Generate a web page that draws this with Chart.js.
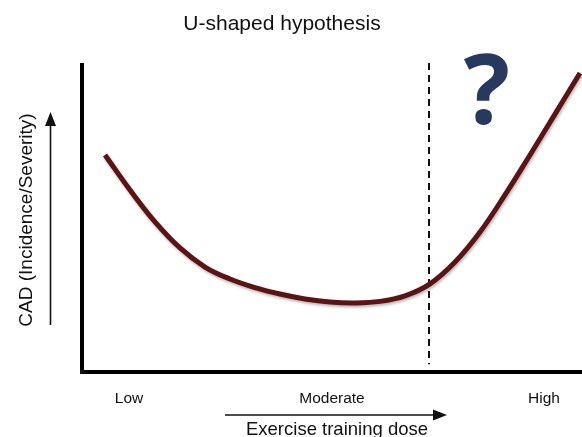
<!DOCTYPE html>
<html>
<head>
<meta charset="utf-8">
<script src="https://cdn.jsdelivr.net/npm/chart.js@4/dist/chart.umd.min.js"></script>
<style>
html,body{margin:0;padding:0;background:#fff;}
#wrap{width:582px;height:437px;}
</style>
</head>
<body>
<div id="wrap"><canvas id="c" width="582" height="437"></canvas></div>
<script>
// ---- data ----
const chartTitle = 'U-shaped hypothesis';
const yTitle = 'CAD (Incidence/Severity)';
const xTitle = 'Exercise training dose';
const doseValues = [0.46, 0.96, 1.46, 1.96, 2.46, 2.96, 3.46, 3.96, 4.46, 4.96, 5.46, 5.96, 6.46, 6.96, 7.46, 7.96, 8.46, 8.96, 9.46, 9.96];
const cadValues  = [70.7, 59.3, 48.9, 40.4, 34.2, 30.3, 27.5, 25.4, 23.8, 22.8, 22.5, 23.0, 24.8, 28.7, 35.8, 45.6, 57.7, 70.7, 84.0, 97.4];
const tickValues = [0.94, 5, 9.24];
const tickLabels = ['Low', 'Moderate', 'High'];
const thresholdDose = 6.94;
const questionMark = '?';

const FONT = '"Liberation Sans", Arial, Helvetica, sans-serif';

const overlay = {
  id: 'overlay',
  beforeDatasetsDraw(chart) {
    const ctx = chart.ctx, xs = chart.scales.x, ys = chart.scales.y;
    const px = xs.getPixelForValue(thresholdDose);
    ctx.save();
    ctx.strokeStyle = '#111';
    ctx.lineWidth = 2;
    ctx.setLineDash([7, 5]);
    ctx.beginPath();
    ctx.moveTo(px, chart.chartArea.top - 2);
    ctx.lineTo(px, ys.getPixelForValue(2.5));
    ctx.stroke();
    ctx.restore();
  },
  beforeDatasetDraw(chart) {
    const ctx = chart.ctx;
    ctx.save();
    ctx.shadowColor = 'rgba(0,0,0,0.28)';
    ctx.shadowBlur = 3;
    ctx.shadowOffsetX = 1;
    ctx.shadowOffsetY = 2;
  },
  afterDatasetDraw(chart) {
    chart.ctx.restore();
  },
  afterDraw(chart) {
    const ctx = chart.ctx, xs = chart.scales.x, ys = chart.scales.y;
    ctx.save();
    // title
    ctx.fillStyle = '#111';
    ctx.font = '21px ' + FONT;
    ctx.textAlign = 'center';
    ctx.textBaseline = 'alphabetic';
    ctx.fillText(chartTitle, 282, 30);
    // question mark
    ctx.fillStyle = '#27395e';
    ctx.font = 'bold 97px "Open Sans", "DejaVu Sans", sans-serif';
    ctx.fillText(questionMark, xs.getPixelForValue(8.1), ys.getPixelForValue(80.8));
    // y title
    ctx.fillStyle = '#111';
    ctx.font = '19px ' + FONT;
    ctx.save();
    ctx.translate(32, 220);
    ctx.rotate(-Math.PI / 2);
    ctx.textAlign = 'center';
    ctx.textBaseline = 'alphabetic';
    ctx.fillText(yTitle, 0, 0);
    ctx.restore();
    // y arrow
    ctx.strokeStyle = '#111';
    ctx.fillStyle = '#111';
    ctx.lineWidth = 1.6;
    ctx.beginPath();
    ctx.moveTo(50.5, 325);
    ctx.lineTo(50.5, 122);
    ctx.stroke();
    ctx.beginPath();
    ctx.moveTo(50.5, 112);
    ctx.lineTo(45, 126);
    ctx.lineTo(56, 126);
    ctx.closePath();
    ctx.fill();
    // x arrow
    ctx.beginPath();
    ctx.moveTo(225, 415);
    ctx.lineTo(436, 415);
    ctx.stroke();
    ctx.beginPath();
    ctx.moveTo(447, 415);
    ctx.lineTo(433, 409.5);
    ctx.lineTo(433, 420.5);
    ctx.closePath();
    ctx.fill();
    // x title
    ctx.font = '18.5px ' + FONT;
    ctx.textAlign = 'center';
    ctx.textBaseline = 'alphabetic';
    ctx.fillText(xTitle, 337, 435);
    // corner fill
    ctx.fillRect(chart.chartArea.left - 2, chart.chartArea.bottom - 2, 4, 4);
    ctx.restore();
  }
};

new Chart(document.getElementById('c'), {
  type: 'line',
  data: {
    datasets: [{
      data: doseValues.map((x, i) => ({ x: x, y: cadValues[i] })),
      borderColor: '#5c1313',
      borderWidth: 5,
      pointRadius: 0,
      tension: 0.4,
      fill: false,
      borderCapStyle: 'butt',
      clip: false
    }]
  },
  options: {
    responsive: false,
    devicePixelRatio: 1,
    animation: false,
    layout: { padding: { top: 65, left: 0, right: 0, bottom: 0 } },
    plugins: { legend: { display: false }, tooltip: { enabled: false }, title: { display: false } },
    scales: {
      x: {
        type: 'linear', min: 0, max: 10,
        grid: { display: false, drawTicks: false },
        border: { display: true, color: '#000', width: 4 },
        afterBuildTicks: (s) => { s.ticks = tickValues.map(v => ({ value: v })); },
        afterFit: (s) => { s.height = 65; },
        ticks: {
          autoSkip: false, maxRotation: 0, padding: 17,
          color: '#111', font: { family: FONT, size: 15.5 },
          callback: (v, i) => tickLabels[i]
        }
      },
      y: {
        type: 'linear', min: 0, max: 100,
        grid: { display: false, drawTicks: false },
        border: { display: true, color: '#000', width: 4 },
        ticks: { display: false },
        afterFit: (s) => { s.width = 82; }
      }
    }
  },
  plugins: [overlay]
});
</script>
</body>
</html>
